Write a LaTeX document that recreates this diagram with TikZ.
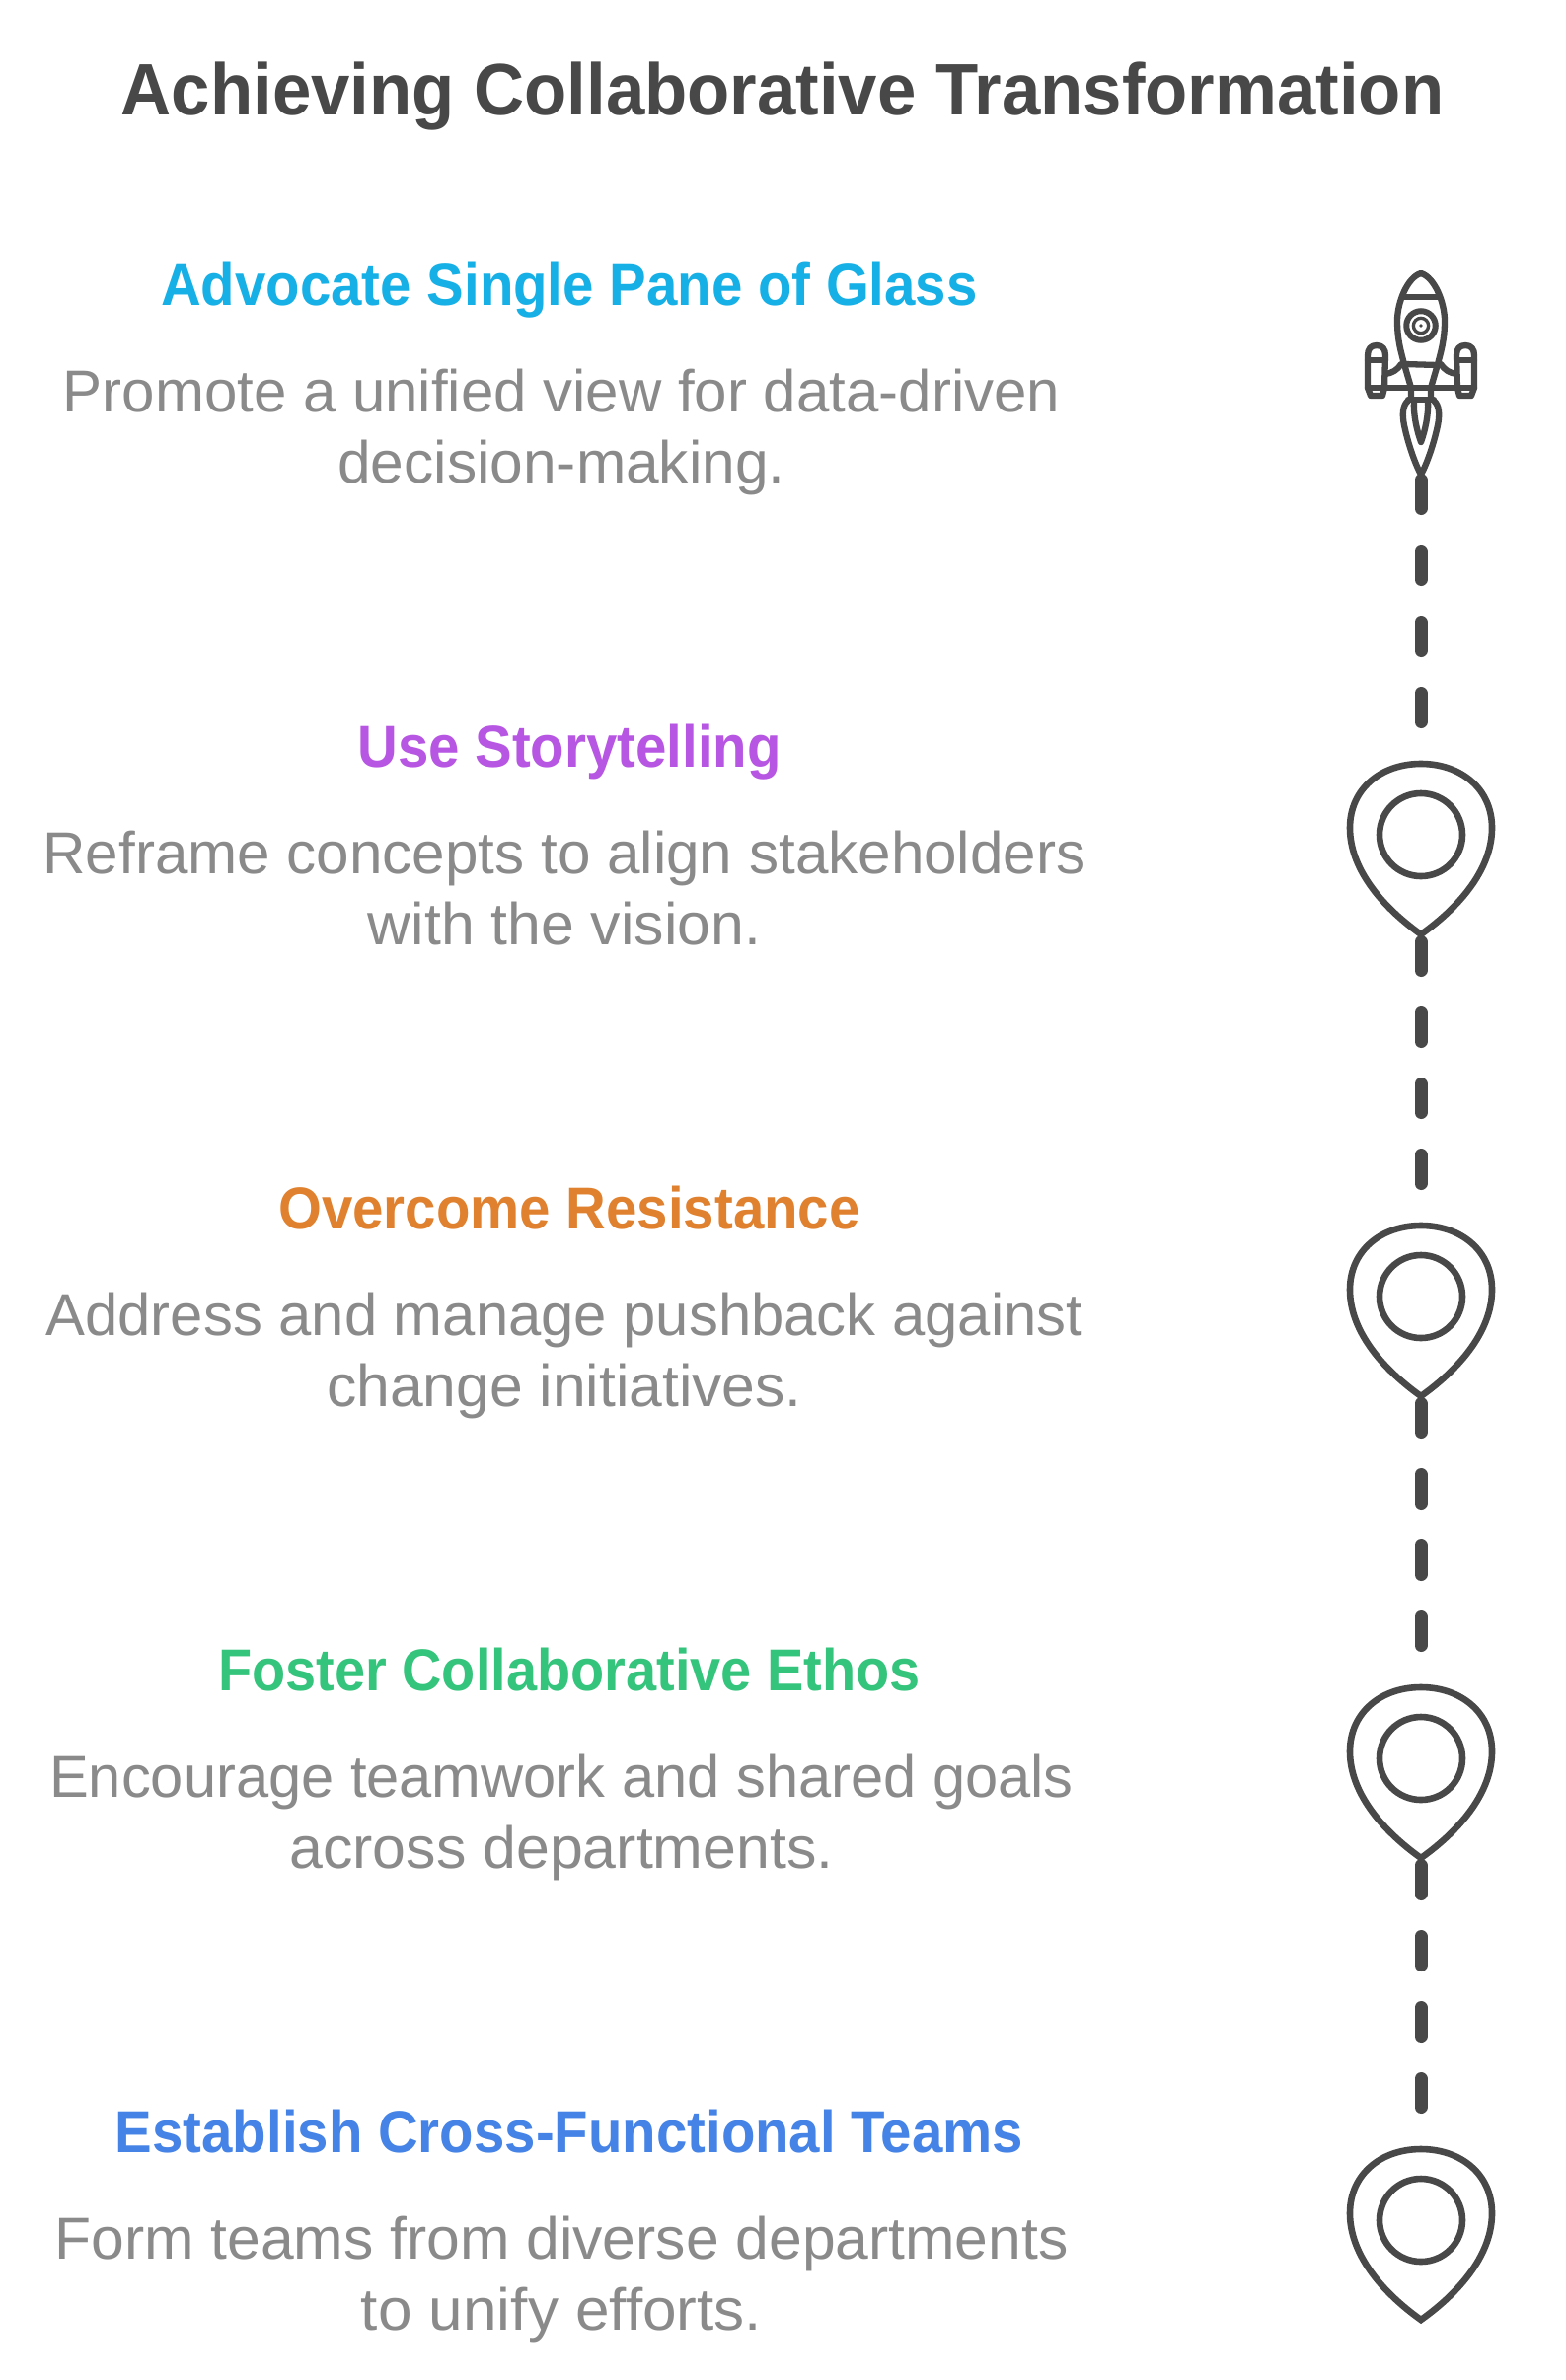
\documentclass[tikz,border=0pt]{standalone}
\usepackage{graphicx}
\usepackage{fontspec}
\setmainfont{Liberation Sans}
\definecolor{ink}{HTML}{484848}
\definecolor{bodygray}{HTML}{8A8A8A}
\definecolor{hA}{HTML}{16B0E6}
\definecolor{hB}{HTML}{B756E3}
\definecolor{hC}{HTML}{E0812F}
\definecolor{hD}{HTML}{35C47C}
\definecolor{hE}{HTML}{4583E6}
\tikzset{
  titletext/.style={anchor=base,font=\bfseries\fontsize{74}{74}\selectfont,text=ink,inner sep=0pt},
  headtext/.style={anchor=base,font=\bfseries\fontsize{60}{60}\selectfont,inner sep=0pt},
  bodytext/.style={anchor=base,font=\fontsize{60}{60}\selectfont,text=bodygray,inner sep=0pt},
  pinline/.style={draw=ink,line width=6.6pt,line join=miter,miter limit=10},
  rline/.style={draw=ink,line width=6.3pt,line join=round,line cap=round},
  route/.style={draw=ink,line width=13pt,line cap=round,dash pattern=on 29pt off 43pt},
}
\newcommand{\hdtxt}[1]{\scalebox{.94}[1]{#1}}
\newcommand{\sx}[2]{\scalebox{#1}[1]{#2}}
\newcommand{\pinicon}[2]{%
  \begin{scope}[shift={(1440,#2)}]
  \path[pinline] (0,3) .. controls (-40,3) and (-72,28) .. (-72,68)
    .. controls (-72,108) and (-42,146) .. (0,176)
    .. controls (42,146) and (72,108) .. (72,68)
    .. controls (72,28) and (40,3) .. (0,3) -- cycle;
  \node[circle,draw=ink,line width=6.6pt,minimum size=84pt,inner sep=0pt,outer sep=0pt] (#1) at (0,75) {};
  \end{scope}
}
\begin{document}
\begin{tikzpicture}[x=1pt,y=-1pt]
\useasboundingbox (0,0) rectangle (1587,2412);
\fill[white] (0,0) rectangle (1587,2412);
\node[titletext] (title) at (793,116) {\scalebox{.956}[1]{Achieving Collaborative Transformation}};
% items
\node[headtext,text=hA] (h1) at (577,309) {\hdtxt{Advocate Single Pane of Glass}};
\node[bodytext] (b1a) at (569,417) {Promote a unified view for data-driven};
\node[bodytext] (b1b) at (569,489) {\sx{1.007}{decision-making.}};
\node[headtext,text=hB] (h2) at (577,777) {\hdtxt{Use Storytelling}};
\node[bodytext] (b2a) at (572,885) {\sx{1.003}{Reframe concepts to align stakeholders}};
\node[bodytext] (b2b) at (572,957) {\sx{1.012}{with the vision.}};
\node[headtext,text=hC] (h3) at (577,1245) {\hdtxt{Overcome Resistance}};
\node[bodytext] (b3a) at (572,1353) {\sx{.997}{Address and manage pushback against}};
\node[bodytext] (b3b) at (572,1425) {\sx{1.01}{change initiatives.}};
\node[headtext,text=hD] (h4) at (577,1713) {\sx{.932}{Foster Collaborative Ethos}};
\node[bodytext] (b4a) at (569,1821) {\sx{.994}{Encourage teamwork and shared goals}};
\node[bodytext] (b4b) at (569,1893) {\sx{1.014}{across departments.}};
\node[headtext,text=hE] (h5) at (577,2181) {\hdtxt{Establish Cross-Functional Teams}};
\node[bodytext] (b5a) at (569,2289) {\sx{1.01}{Form teams from diverse departments}};
\node[bodytext] (b5b) at (569,2361) {\sx{1.035}{to unify efforts.}};
% rocket
\begin{scope}[shift={(1440,275)}]
% hull
\path[rline] (0,2) .. controls (-14,6) and (-24,32) .. (-24,50) .. controls (-24,70) and (-20,82) .. (-17,94)
  -- (-10,118) -- (-10,128);
\path[rline] (0,2) .. controls (14,6) and (24,32) .. (24,50) .. controls (24,70) and (20,82) .. (17,94)
  -- (10,118) -- (10,128);
\path[rline] (-18,26) -- (18,26);
\path[rline] (-17,94) -- (17,95);
% window
\node[circle,draw=ink,line width=6pt,minimum size=29.5pt,inner sep=0pt,outer sep=0pt] (port) at (0,55) {};
\node[circle,draw=ink,line width=3.3pt,minimum size=15.3pt,inner sep=0pt,outer sep=0pt] (portB) at (0,55) {};
\node[circle,fill=ink,minimum size=3.6pt,inner sep=0pt,outer sep=0pt] (portC) at (0,55) {};
% left booster
\path[rline] (-45,75) .. controls (-51,75) and (-54,79) .. (-54,85) -- (-54,118) -- (-51,126) -- (-39,126) -- (-37,118) -- (-36,85) .. controls (-36,79) and (-39,75) .. (-45,75) -- cycle;
\path[rline] (-54,90) -- (-36,90);
% right booster
\path[rline] (45,75) .. controls (51,75) and (54,79) .. (54,85) -- (54,118) -- (51,126) -- (39,126) -- (37,118) -- (36,85) .. controls (36,79) and (39,75) .. (45,75) -- cycle;
\path[rline] (36,90) -- (54,90);
% cross bar and struts
\path[rline] (-54,118) -- (54,118);
\path[rline] (-20,94) .. controls (-24,100) and (-29,103) .. (-36,104);
\path[rline] (20,94) .. controls (24,100) and (29,103) .. (36,104);
% nozzle
\path[rline] (-13,130) -- (13,130);
\path[rline] (-13,131) .. controls (-19,136) and (-19,146) .. (-17,156) .. controls (-13,175) and (-6,195) .. (0,206)
  .. controls (6,195) and (13,175) .. (17,156) .. controls (19,146) and (19,136) .. (13,131);
\path[rline] (-7,131) .. controls (-8,145) and (-4,162) .. (0,173) .. controls (4,162) and (8,145) .. (7,131);
\end{scope}
% pins
\pinicon{pinA}{771}
\pinicon{pinB}{1239}
\pinicon{pinC}{1707}
\pinicon{pinD}{2175}
% connector ends
\coordinate (r1s) at (1440,486.5);
\coordinate (r1e) at (1440,731.5);
\coordinate (r2s) at (1440,954.5);
\coordinate (r2e) at (1440,1199.5);
\coordinate (r3s) at (1440,1422.5);
\coordinate (r3e) at (1440,1667.5);
\coordinate (r4s) at (1440,1890.5);
\coordinate (r4e) at (1440,2135.5);
\draw[route] (r1s) -- (r1e);
\draw[route] (r2s) -- (r2e);
\draw[route] (r3s) -- (r3e);
\draw[route] (r4s) -- (r4e);
\end{tikzpicture}
\end{document}
